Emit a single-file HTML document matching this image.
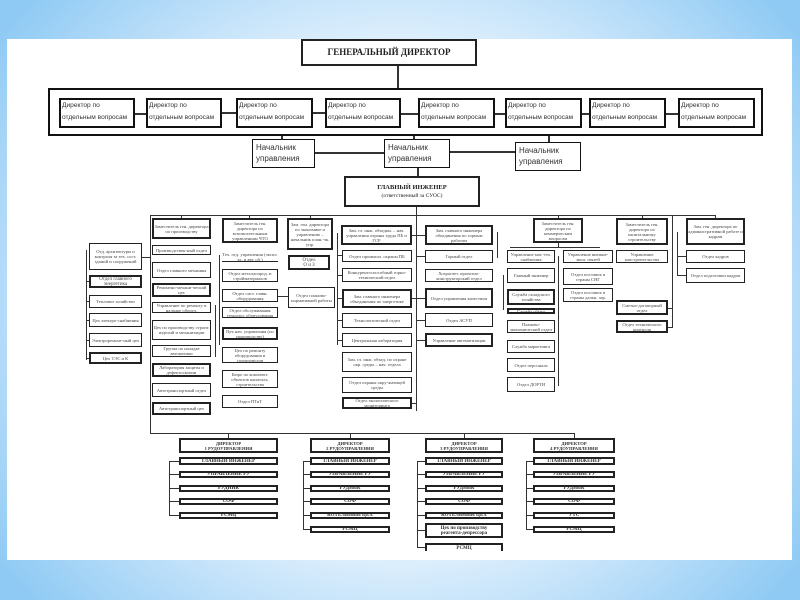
<!DOCTYPE html>
<html><head><meta charset="utf-8"><style>
*{margin:0;padding:0;box-sizing:border-box}
body{width:800px;height:600px;overflow:hidden;position:relative;
background:radial-gradient(ellipse 62% 75% at 50% 50%,#ffffff 0%,#ffffff 40%,#cfe8fb 65%,#8fcaf4 100%);
font-family:"Liberation Serif",serif}
#p{position:absolute;left:7px;top:39px;width:785px;height:521px;background:#fff}
.b{position:absolute;border:1.3px solid #222;background:#fff;display:flex;align-items:center;justify-content:center;text-align:center;font-size:4.6px;line-height:5px;color:#444;overflow:hidden}
.k{border-width:2px}
.d{position:absolute;border:2px solid #111;background:#fff;font-family:"Liberation Sans",sans-serif;font-size:6.6px;line-height:12px;color:#333;padding-left:1px;white-space:nowrap;overflow:hidden}
.n{position:absolute;border:1.5px solid #111;background:#fff;font-family:"Liberation Sans",sans-serif;font-size:8px;line-height:11px;color:#333;padding:2px 3px;white-space:nowrap}
.h{position:absolute;height:1.3px;background:#333}
.v{position:absolute;width:1.3px;background:#333}
.r{font-weight:bold;font-size:5px;color:#333}
.t{font-weight:bold;font-size:4.6px;line-height:5px;color:#333}
</style></head><body>
<div id="p"></div>

<div class="b k" style="left:301px;top:39px;width:176px;height:27px;font-size:9px;font-weight:bold;color:#222;border-width:2.5px">ГЕНЕРАЛЬНЫЙ ДИРЕКТОР</div>
<div class="v" style="left:397px;top:66px;height:22px;width:2px"></div>
<div style="position:absolute;left:48px;top:88px;width:715px;height:48px;border:2.5px solid #111"></div>
<div class="d" style="left:59px;top:98px;width:76px;height:30px">Директор по<br>отдельным вопросам</div>
<div class="d" style="left:146px;top:98px;width:76px;height:30px">Директор по<br>отдельным вопросам</div>
<div class="d" style="left:236px;top:98px;width:77px;height:30px">Директор по<br>отдельным вопросам</div>
<div class="d" style="left:325px;top:98px;width:76px;height:30px">Директор по<br>отдельным вопросам</div>
<div class="d" style="left:418px;top:98px;width:77px;height:30px">Директор по<br>отдельным вопросам</div>
<div class="d" style="left:505px;top:98px;width:77px;height:30px">Директор по<br>отдельным вопросам</div>
<div class="d" style="left:589px;top:98px;width:77px;height:30px">Директор по<br>отдельным вопросам</div>
<div class="d" style="left:678px;top:98px;width:77px;height:30px">Директор по<br>отдельным вопросам</div>
<div class="h" style="left:135px;top:113px;width:11px;height:2px"></div>
<div class="h" style="left:222px;top:112px;width:14px;height:2px"></div>
<div class="h" style="left:313px;top:112px;width:12px;height:2px"></div>
<div class="h" style="left:401px;top:113px;width:17px;height:2px"></div>
<div class="h" style="left:495px;top:113px;width:10px;height:2px"></div>
<div class="h" style="left:582px;top:113px;width:7px;height:2px"></div>
<div class="h" style="left:666px;top:113px;width:12px;height:2px"></div>

<div class="v" style="left:281px;top:136px;height:4px;width:2px"></div>
<div class="v" style="left:413px;top:136px;height:4px;width:2px"></div>
<div class="v" style="left:548px;top:136px;height:6px;width:2px"></div>
<div class="n" style="left:252px;top:139px;width:63px;height:29px">Начальник<br>управления</div>
<div class="n" style="left:384px;top:139px;width:66px;height:29px">Начальник<br>управления</div>
<div class="n" style="left:515px;top:142px;width:66px;height:29px">Начальник<br>управления</div>
<div class="h" style="left:315px;top:152px;width:69px;height:2px"></div>
<div class="h" style="left:450px;top:151px;width:65px;height:2px"></div>
<div class="v" style="left:417px;top:168px;height:8px;width:2px"></div>
<div class="b k" style="left:344px;top:176px;width:136px;height:31px;flex-direction:column;font-size:6.5px;line-height:9px;color:#222;border-width:2.5px"><b>ГЛАВНЫЙ ИНЖЕНЕР</b><span style="font-size:5.5px">(ответственный за СУОС)</span></div>

<div class="v" style="left:416px;top:207px;height:204px"></div>
<div class="h" style="left:150px;top:215px;width:566px"></div>
<div class="v" style="left:150px;top:215px;height:219px"></div>
<div class="h" style="left:150px;top:433px;width:425px"></div>
<div class="v" style="left:181px;top:215px;height:4px"></div>
<div class="v" style="left:249px;top:215px;height:4px"></div>
<div class="v" style="left:310px;top:215px;height:4px"></div>
<div class="v" style="left:558px;top:215px;height:4px"></div>
<div class="v" style="left:642px;top:215px;height:4px"></div>
<div class="v" style="left:715px;top:215px;height:4px"></div>

<div class="v" style="left:86px;top:250px;height:110px"></div>
<div class="h" style="left:142px;top:257px;width:9px"></div>
<div class="b" style="left:89px;top:243px;width:53px;height:27px">Отд. архитектуры и контроля за тех. сост. зданий и сооружений</div>
<div class="b k" style="left:89px;top:275px;width:53px;height:13px;font-size:5px">Отдел главного энергетика</div>
<div class="b" style="left:89px;top:295px;width:53px;height:13px">Тепловое хозяйство</div>
<div class="b" style="left:89px;top:313px;width:53px;height:14px">Цех электро-снабжения</div>
<div class="b" style="left:89px;top:333px;width:53px;height:14px">Электроремонт-ный цех</div>
<div class="b k" style="left:89px;top:352px;width:53px;height:12px">Цех ТЭС и К</div>
<div class="h" style="left:86px;top:281px;width:3px"></div><div class="h" style="left:86px;top:301px;width:3px"></div><div class="h" style="left:86px;top:320px;width:3px"></div><div class="h" style="left:86px;top:340px;width:3px"></div><div class="h" style="left:86px;top:358px;width:3px"></div>

<div class="b k" style="left:152px;top:218px;width:59px;height:21px">Заместитель ген. директора по производству</div>
<div class="b" style="left:152px;top:245px;width:59px;height:10px">Производствен-ный отдел</div>
<div class="b" style="left:152px;top:262px;width:59px;height:16px">Отдел главного механика</div>
<div class="b k" style="left:152px;top:283px;width:59px;height:14px">Ремонтно-механи-ческий цех</div>
<div class="b" style="left:152px;top:302px;width:59px;height:11px">Управление по ремонту и наладке оборуд.</div>
<div class="b" style="left:152px;top:320px;width:59px;height:20px">Цех по производству строит. изделий и механизации</div>
<div class="b" style="left:152px;top:345px;width:59px;height:12px">Группа по наладке автоматики</div>
<div class="b k" style="left:152px;top:363px;width:59px;height:14px">Лаборатория защиты и дефектоскопии</div>
<div class="b" style="left:152px;top:383px;width:59px;height:14px">Автотранспортный отдел</div>
<div class="b k" style="left:152px;top:402px;width:59px;height:13px">Автотранспортный цех</div>
<div class="v" style="left:215px;top:305px;height:52px"></div>

<div class="b k" style="left:222px;top:218px;width:56px;height:25px">Заместитель ген. директора по вспомогательным управлениям ЧТО</div>
<div class="b" style="left:222px;top:252px;width:56px;height:10px;border-width:0 0 1.3px 0">Тех. отд. управления (экспл. эл. и авт. об.)</div>
<div class="b" style="left:222px;top:269px;width:56px;height:13px">Отдел металлопрод. и стройматериалов</div>
<div class="b" style="left:222px;top:289px;width:56px;height:13px">Отдел сист. главн. оборудования</div>
<div class="b" style="left:222px;top:307px;width:56px;height:11px">Отдел обслуживания технолог. оборудования</div>
<div class="b k" style="left:222px;top:327px;width:56px;height:13px">Цех нач. управления (по производству)</div>
<div class="b" style="left:222px;top:347px;width:56px;height:16px">Цех по ремонту оборудования и газопроводов</div>
<div class="b" style="left:222px;top:370px;width:56px;height:18px">Бюро по комплект. объектов капиталь. строительства</div>
<div class="b" style="left:222px;top:395px;width:56px;height:13px">Отдел ПТиТ</div>
<div class="h" style="left:278px;top:296px;width:10px"></div>
<div class="v" style="left:219px;top:255px;height:90px"></div>

<div class="b k" style="left:287px;top:218px;width:46px;height:32px">Зам. ген. директора по экономике и управлению – начальник план.-эк. упр.</div>
<div class="b k" style="left:288px;top:255px;width:42px;height:15px;font-size:5px">Отдел<br>О и З</div>
<div class="b" style="left:288px;top:287px;width:47px;height:21px">Отдел планово-нормативной работы</div>

<div class="v" style="left:337px;top:233px;height:112px"></div>
<div class="b k" style="left:341px;top:225px;width:71px;height:20px">Зам. гл. инж. объедин. – нач. управления охраны труда ПБ и ГСР</div>
<div class="b" style="left:342px;top:250px;width:70px;height:12px">Отдел промышл. охраны ПБ</div>
<div class="b" style="left:342px;top:268px;width:70px;height:14px">Конкурентоспособный горно-технический отдел</div>
<div class="b k" style="left:342px;top:289px;width:70px;height:19px">Зам. главного инженера объединения по энергетике</div>
<div class="b" style="left:342px;top:313px;width:70px;height:15px">Технологический отдел</div>
<div class="b" style="left:342px;top:333px;width:70px;height:14px">Центральная лаборатория</div>
<div class="b" style="left:342px;top:352px;width:70px;height:20px">Зам. гл. инж. объед. по охране окр. среды – нач. отдела</div>
<div class="b" style="left:342px;top:377px;width:70px;height:16px">Отдел охраны окру-жающей среды</div>
<div class="b k" style="left:342px;top:397px;width:70px;height:12px">Отдел экологического мониторинга</div>
<div class="h" style="left:337px;top:255px;width:5px"></div><div class="h" style="left:337px;top:275px;width:5px"></div><div class="h" style="left:337px;top:298px;width:5px"></div><div class="h" style="left:337px;top:320px;width:5px"></div><div class="h" style="left:337px;top:340px;width:5px"></div>
<div class="h" style="left:412px;top:235px;width:13px"></div><div class="h" style="left:412px;top:298px;width:13px"></div><div class="h" style="left:412px;top:403px;width:5px"></div>

<div class="b k" style="left:425px;top:225px;width:68px;height:20px">Зам. главного инженера объединения по горным работам</div>
<div class="b" style="left:425px;top:250px;width:68px;height:13px">Горный отдел</div>
<div class="b" style="left:425px;top:269px;width:68px;height:13px">Хозрасчет. проектно-конструкторский отдел</div>
<div class="b k" style="left:425px;top:288px;width:68px;height:20px">Отдел управления качеством</div>
<div class="b" style="left:425px;top:313px;width:68px;height:14px">Отдел АСУП</div>
<div class="b k" style="left:425px;top:333px;width:68px;height:14px">Управление автоматизации</div>
<div class="h" style="left:417px;top:320px;width:8px"></div><div class="h" style="left:417px;top:340px;width:8px"></div><div class="h" style="left:417px;top:256px;width:8px"></div>
<div class="v" style="left:497px;top:232px;height:26px"></div>

<div class="b k" style="left:533px;top:218px;width:50px;height:25px">Заместитель ген. директора по коммерческим вопросам</div>
<div class="h" style="left:510px;top:247px;width:90px"></div>
<div class="v" style="left:558px;top:243px;height:4px"></div>
<div class="b" style="left:507px;top:250px;width:48px;height:13px">Управление мат.-тех. снабжения</div>
<div class="b" style="left:507px;top:268px;width:48px;height:15px">Главный инженер</div>
<div class="b k" style="left:507px;top:289px;width:48px;height:16px">Служба складского хозяйства</div>
<div class="b k" style="left:507px;top:308px;width:48px;height:6px">Служба сбыта</div>
<div class="b" style="left:507px;top:320px;width:48px;height:13px">Планово-экономический отдел</div>
<div class="b" style="left:507px;top:340px;width:48px;height:13px">Служба маркетинга</div>
<div class="b" style="left:507px;top:358px;width:48px;height:14px">Отдел персонала</div>
<div class="b" style="left:507px;top:377px;width:48px;height:15px">Отдел ДОРТИ</div>
<div class="v" style="left:558px;top:256px;height:130px"></div>
<div class="v" style="left:503px;top:275px;height:35px"></div>
<div class="b" style="left:563px;top:250px;width:50px;height:13px">Управление внешне-экон. связей</div>
<div class="b" style="left:563px;top:268px;width:50px;height:17px">Отдел поставок в страны СНГ</div>
<div class="b" style="left:563px;top:288px;width:50px;height:14px">Отдел поставок в страны дальн. зар.</div>

<div class="b k" style="left:616px;top:218px;width:52px;height:27px">Заместитель ген. директора по капитальному строительству</div>
<div class="b" style="left:616px;top:250px;width:52px;height:13px">Управление капстроительства</div>
<div class="b k" style="left:616px;top:300px;width:52px;height:15px">Сметно-договорный отдел</div>
<div class="b k" style="left:616px;top:320px;width:52px;height:13px">Отдел технического контроля</div>
<div class="v" style="left:672px;top:215px;height:113px"></div>
<div class="h" style="left:668px;top:308px;width:4px"></div><div class="h" style="left:668px;top:327px;width:4px"></div>

<div class="b k" style="left:686px;top:218px;width:59px;height:27px">Зам. ген. директора по административной работе и кадрам</div>
<div class="b" style="left:686px;top:250px;width:59px;height:13px">Отдел кадров</div>
<div class="b" style="left:686px;top:268px;width:59px;height:15px">Отдел подготовки кадров</div>
<div class="v" style="left:677px;top:232px;height:44px"></div>
<div class="h" style="left:677px;top:256px;width:9px"></div><div class="h" style="left:677px;top:275px;width:9px"></div>

<div class="v" style="left:228px;top:433px;height:5px"></div>
<div class="v" style="left:350px;top:433px;height:5px"></div>
<div class="v" style="left:464px;top:433px;height:5px"></div>
<div class="v" style="left:574px;top:433px;height:5px"></div>

<div class="b k" style="left:179px;top:438px;width:99px;height:15px"><span class="t">ДИРЕКТОР<br>1 РУДОУПРАВЛЕНИЯ</span></div>
<div class="v" style="left:169px;top:461px;height:55px"></div>
<div class="b k r" style="left:179px;top:457px;width:99px;height:8px">ГЛАВНЫЙ ИНЖЕНЕР</div>
<div class="b k r" style="left:179px;top:471px;width:99px;height:7px">УПРАВЛЕНИЕ РУ</div>
<div class="b k r" style="left:179px;top:485px;width:99px;height:7px">РУДНИК</div>
<div class="b k r" style="left:179px;top:498px;width:99px;height:7px">СОФ</div>
<div class="b k r" style="left:179px;top:512px;width:99px;height:7px">РСМЦ</div>

<div class="b k" style="left:310px;top:438px;width:80px;height:15px"><span class="t">ДИРЕКТОР<br>2 РУДОУПРАВЛЕНИЯ</span></div>
<div class="v" style="left:303px;top:461px;height:69px"></div>
<div class="b k r" style="left:310px;top:457px;width:80px;height:8px">ГЛАВНЫЙ ИНЖЕНЕР</div>
<div class="b k r" style="left:310px;top:471px;width:80px;height:7px">УПРАВЛЕНИЕ РУ</div>
<div class="b k r" style="left:310px;top:485px;width:80px;height:7px">РУДНИК</div>
<div class="b k r" style="left:310px;top:498px;width:80px;height:7px">СОФ</div>
<div class="b k r" style="left:310px;top:512px;width:80px;height:7px">КОТЕЛЬНЫЙ ЦЕХ</div>
<div class="b k r" style="left:310px;top:526px;width:80px;height:7px">РСМЦ</div>

<div class="b k" style="left:425px;top:438px;width:78px;height:15px"><span class="t">ДИРЕКТОР<br>3 РУДОУПРАВЛЕНИЯ</span></div>
<div class="v" style="left:417px;top:461px;height:87px"></div>
<div class="b k r" style="left:425px;top:457px;width:78px;height:8px">ГЛАВНЫЙ ИНЖЕНЕР</div>
<div class="b k r" style="left:425px;top:471px;width:78px;height:7px">УПРАВЛЕНИЕ РУ</div>
<div class="b k r" style="left:425px;top:485px;width:78px;height:7px">РУДНИК</div>
<div class="b k r" style="left:425px;top:498px;width:78px;height:7px">СОФ</div>
<div class="b k r" style="left:425px;top:512px;width:78px;height:7px">КОТЕЛЬНЫЙ ЦЕХ</div>
<div class="b k r" style="left:425px;top:523px;width:78px;height:15px">Цех по производству<br>реагента-депрессора</div>
<div class="b k r" style="left:425px;top:543px;width:78px;height:8px;border-bottom:none">РСМЦ</div>

<div class="b k" style="left:533px;top:438px;width:82px;height:15px"><span class="t">ДИРЕКТОР<br>4 РУДОУПРАВЛЕНИЯ</span></div>
<div class="v" style="left:526px;top:461px;height:69px"></div>
<div class="b k r" style="left:533px;top:457px;width:82px;height:8px">ГЛАВНЫЙ ИНЖЕНЕР</div>
<div class="b k r" style="left:533px;top:471px;width:82px;height:7px">УПРАВЛЕНИЕ РУ</div>
<div class="b k r" style="left:533px;top:485px;width:82px;height:7px">РУДНИК</div>
<div class="b k r" style="left:533px;top:498px;width:82px;height:7px">СОФ</div>
<div class="b k r" style="left:533px;top:512px;width:82px;height:7px">УТС</div>
<div class="b k r" style="left:533px;top:526px;width:82px;height:7px">РСМЦ</div>

<div class="h" style="left:169px;top:461px;width:10px"></div><div class="h" style="left:169px;top:474px;width:10px"></div><div class="h" style="left:169px;top:488px;width:10px"></div><div class="h" style="left:169px;top:501px;width:10px"></div><div class="h" style="left:169px;top:515px;width:10px"></div>
<div class="h" style="left:303px;top:461px;width:7px"></div><div class="h" style="left:303px;top:474px;width:7px"></div><div class="h" style="left:303px;top:488px;width:7px"></div><div class="h" style="left:303px;top:501px;width:7px"></div><div class="h" style="left:303px;top:515px;width:7px"></div><div class="h" style="left:303px;top:529px;width:7px"></div>
<div class="h" style="left:417px;top:461px;width:8px"></div><div class="h" style="left:417px;top:474px;width:8px"></div><div class="h" style="left:417px;top:488px;width:8px"></div><div class="h" style="left:417px;top:501px;width:8px"></div><div class="h" style="left:417px;top:515px;width:8px"></div><div class="h" style="left:417px;top:530px;width:8px"></div><div class="h" style="left:417px;top:547px;width:8px"></div>
<div class="h" style="left:526px;top:461px;width:7px"></div><div class="h" style="left:526px;top:474px;width:7px"></div><div class="h" style="left:526px;top:488px;width:7px"></div><div class="h" style="left:526px;top:501px;width:7px"></div><div class="h" style="left:526px;top:515px;width:7px"></div><div class="h" style="left:526px;top:529px;width:7px"></div>

<div style="position:absolute;left:400px;top:551px;width:120px;height:9px;background:#fff"></div>
</body></html>
